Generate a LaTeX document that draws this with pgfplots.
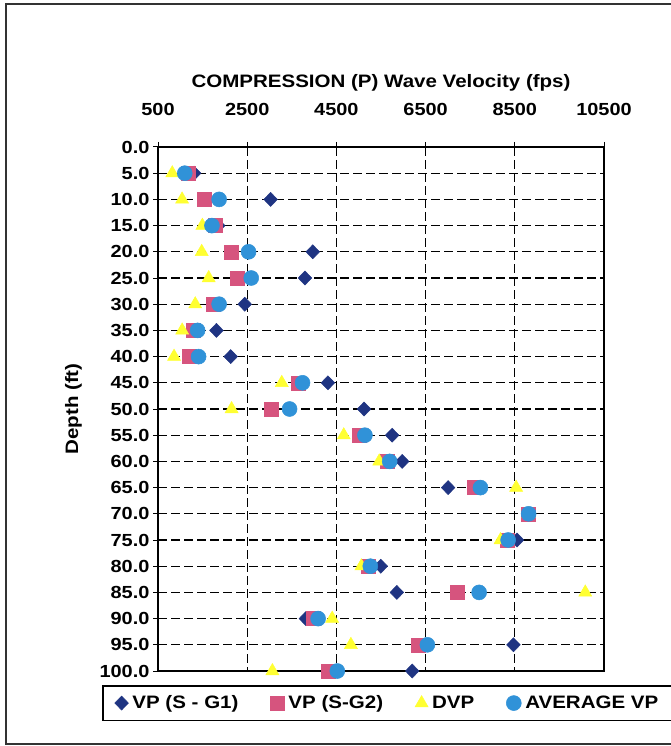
\documentclass[border=0pt]{standalone}
\usepackage{pgfplots}
\pgfplotsset{compat=1.18}
\usepackage{pgfplotstable}
\usepackage{fontspec}
\setmainfont{Liberation Sans}[FakeStretch=1.14]
\definecolor{gone}{RGB}{31,52,130}
\definecolor{gtwo}{RGB}{214,84,126}
\definecolor{dvp}{RGB}{255,255,50}
\definecolor{avg}{RGB}{48,146,216}
\pgfplotstableread{
depth g1 g2 dvp avg
5 1310 1170 820 1100
10 3025 1535 1040 1870
15 1850 1785 1495 1710
20 3970 2150 1480 2530
25 3795 2287 1637 2590
30 2445 1732 1335 1870
35 1810 1297 1042 1388
40 2130 1200 860 1410
45 4310 3635 3275 3740
50 5120 3040 2150 3450
55 5750 5005 4665 5140
60 5975 5650 5460 5695
65 7005 7600 8530 7730
70 8810 8810 8810 8810
75 8550 8320 8180 8350
80 5495 5225 5060 5260
85 5855 7200 10080 7700
90 3815 3990 4405 4090
95 8470 6330 4825 6540
100 6200 4310 3065 4520
}\data
\begin{document}
\begin{tikzpicture}[x=1pt,y=1pt]
\useasboundingbox (0,0) rectangle (671,746);
\fill[white] (0,0) rectangle (671,746);
\draw[line width=2pt, black!80] (6,2) rectangle (680,741.5);
\begin{axis}[
  at={(158pt,75pt)}, anchor=south west,
  scale only axis, width=446pt, height=524pt,
  xmin=500, xmax=10500, ymin=0, ymax=100,
  y dir=reverse,
  xtick={500,2500,4500,6500,8500,10500},
  ytick={0,5,...,100},
  xticklabel pos=right, xtick pos=right, ytick pos=left,
  tick align=center, major tick length=10pt,
  axis line style={line width=2.2pt},
  every tick/.style={black, line width=1pt},
  grid=major,
  major grid style={black, line width=1.2pt, dash pattern=on 9pt off 4pt},
  /pgf/number format/assume math mode=true,
  scaled x ticks=false,
  xticklabel style={/pgf/number format/fixed, /pgf/number format/1000 sep={}, anchor=base, yshift=26pt},
  yticklabel style={/pgf/number format/fixed, /pgf/number format/fixed zerofill, /pgf/number format/precision=1},
  every tick label/.append style={font=\fontsize{17.5}{20}\selectfont\bfseries},
  xlabel={COMPRESSION (P) Wave Velocity (fps)},
  xlabel style={at={(axis description cs:0.5,1)}, anchor=base, yshift=59pt, font=\fontsize{18}{20}\selectfont\bfseries},
  ylabel={Depth (ft)},
  ylabel style={at={(axis description cs:-0.179,0.5)}, anchor=base, font=\fontsize{18}{20}\selectfont\bfseries},
  clip=false,
  legend columns=4,
  legend image code/.code={\draw[#1] plot coordinates {(0pt,0pt)};},
  legend style={at={(axis description cs:-0.1256,-0.0267)}, anchor=north west,
    draw=black, line width=1.6pt, inner xsep=12pt, inner ysep=9pt,
    font=\fontsize{18}{20}\selectfont\bfseries,
    nodes={inner sep=1pt},
    /tikz/every odd column/.append style={column sep=3pt},
    /tikz/every even column/.append style={column sep=31pt}},
]
\addplot[only marks, mark=diamond*, mark size=7pt, mark options={xscale=1.3, fill=gone, draw=gone, line width=0.5pt}] table[x=g1, y=depth] {\data};
\addlegendentry{VP (S - G1)}
\addplot[only marks, mark=square*, mark size=7pt, mark options={fill=gtwo, draw=gtwo, line width=0.5pt}] table[x=g2, y=depth] {\data};
\addlegendentry{VP (S-G2)}
\addplot[only marks, mark=triangle*, mark size=7.5pt, mark options={fill=dvp, draw=dvp, line width=0.5pt}] table[x=dvp, y=depth] {\data};
\addlegendentry{DVP}
\addplot[only marks, mark=*, mark size=7.5pt, mark options={fill=avg, draw=avg, line width=0.5pt}] table[x=avg, y=depth] {\data};
\addlegendentry{AVERAGE VP}
\end{axis}
\end{tikzpicture}
\end{document}
